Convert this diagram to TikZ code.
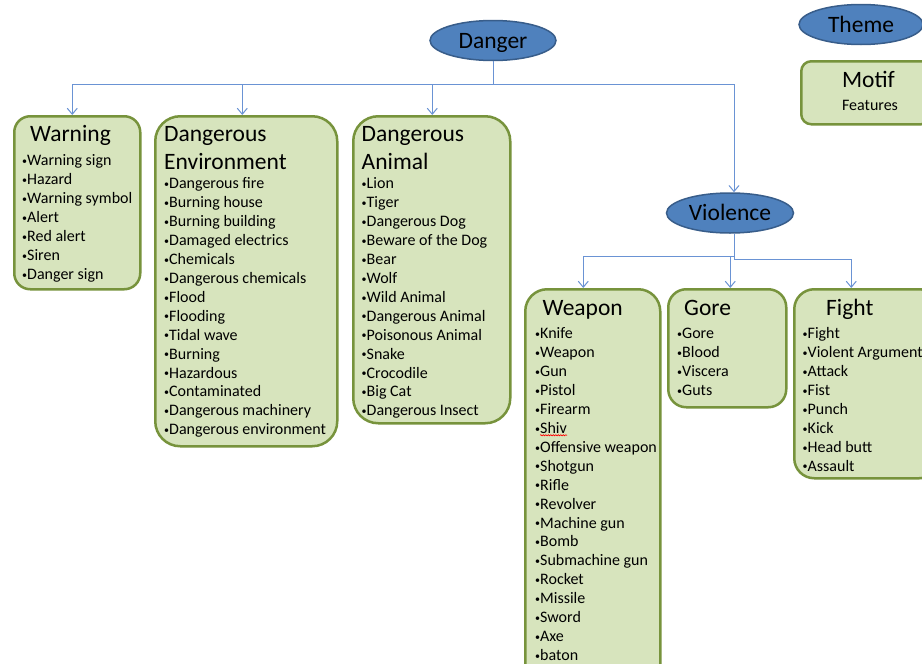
\documentclass[tikz,border=0pt]{standalone}
\usepackage{fontspec}
\setmainfont{Carlito}
\usetikzlibrary{shapes.geometric,arrows.meta,decorations.pathmorphing}
\definecolor{boxfill}{HTML}{D7E4BD}
\definecolor{boxline}{HTML}{77933C}
\definecolor{ellfill}{HTML}{4F81BD}
\definecolor{elline}{HTML}{385D8A}
\definecolor{conncol}{HTML}{6A93D4}
\newcommand\bul{\makebox[5pt][l]{\raisebox{1.2pt}{\fontsize{10}{10}\selectfont •}}}
\begin{document}
\begin{tikzpicture}[x=1pt,y=-1pt,
  box/.style={draw=boxline,fill=boxfill,line width=2.5pt,inner sep=0pt,anchor=north west},
  oval/.style={ellipse,draw=elline,fill=ellfill,line width=1.5pt,inner sep=0pt,minimum width=126pt,minimum height=40pt,font=\fontsize{23.5}{28}\selectfont,text height=15pt,text depth=0pt},
  ttl/.style={font=\fontsize{23.5}{28}\selectfont,inner sep=0pt},
  itm/.style={font=\fontsize{16}{19}\selectfont,inner sep=0pt,anchor=base west},
  conn/.style={draw=conncol,line width=1pt},
  arr/.style={conn,-{Straight Barb[length=6pt,width=10pt]}}]
\clip (0,0) rectangle (922,664);
\fill[white] (0,0) rectangle (922,664);
% boxes
\node[box,minimum width=126pt,minimum height=173pt,rounded corners=16pt] (warn) at (13,115) {};
\node[box,minimum width=182pt,minimum height=330pt,rounded corners=25pt] (env) at (154,115) {};
\node[box,minimum width=157pt,minimum height=307pt,rounded corners=25pt] (ani) at (352,115) {};
\node[box,minimum width=135pt,minimum height=400pt,rounded corners=22pt] (weap) at (524,288) {};
\node[box,minimum width=118pt,minimum height=118pt,rounded corners=18pt] (gore) at (667,288) {};
\node[box,minimum width=145pt,minimum height=189pt,rounded corners=20pt] (fight) at (793,288) {};
\node[box,minimum width=130pt,minimum height=63pt,rounded corners=10pt] (motif) at (800,60) {};
% ovals
\node[oval] (danger) at (493,40.5) {Danger};
\node[oval,minimum width=124pt] (theme) at (861,24.5) {Theme};
\node[oval,minimum width=127pt] (violence) at (730,213) {Violence};
% connectors
\coordinate (dj) at (493,84);
\draw[conn] (danger.south) -- (dj);
\draw[arr] (dj) -| ([xshift=-5pt]warn.north);
\draw[arr] (dj) -| ([xshift=-4pt]env.north);
\draw[arr] (dj) -| ([xshift=0.5pt]ani.north);
\draw[arr] (dj) -| ([xshift=4pt]violence.north);
\coordinate (vj) at (734,256);
\coordinate (vk) at (734,259);
\draw[conn] ([xshift=4pt]violence.south) -- (vk);
\draw[arr] (vj) -| ([xshift=-9.5pt]weap.north);
\draw[arr] (vj) -| ([xshift=3pt]gore.north);
\draw[arr] (vk) -| ([xshift=-15.5pt]fight.north);
% titles
\node[ttl,anchor=base] (warnt) at (70.5,141.5) {Warning};
\node[ttl,anchor=base west] (envt1) at (164,141) {Dangerous};
\node[ttl,anchor=base west] (envt2) at (164,169.5) {Environment};
\node[ttl,anchor=base west] (anit1) at (361.5,141) {Dangerous};
\node[ttl,anchor=base west] (anit2) at (361.5,169.5) {Animal};
\node[ttl,anchor=base west] (weapt) at (542.5,315) {Weapon};
\node[ttl,anchor=base west] (goret) at (684,315) {Gore};
\node[ttl,anchor=base west] (fightt) at (826,315) {Fight};
\node[ttl,anchor=base] (motift) at (868.5,87.3) {Motif};
\node[itm,anchor=base] (feat) at (870,110) {Features};
% items
\foreach \t [count=\i] in {Warning sign,Hazard,Warning symbol,Alert,Red alert,Siren,Danger sign}
  \node[itm] (wa\i) at (22,{165.5+18.95*(\i-1)}) {\bul\t};
\foreach \t [count=\i] in {Dangerous fire,Burning house,Burning building,Damaged electrics,Chemicals,Dangerous chemicals,Flood,Flooding,Tidal wave,Burning,Hazardous,Contaminated,Dangerous machinery,Dangerous environment}
  \node[itm] (en\i) at (164,{188.5+18.95*(\i-1)}) {\bul\t};
\foreach \t [count=\i] in {Lion,Tiger,Dangerous Dog,Beware of the Dog,Bear,Wolf,Wild Animal,Dangerous Animal,Poisonous Animal,Snake,Crocodile,Big Cat,Dangerous Insect}
  \node[itm] (an\i) at (361.5,{188.5+18.95*(\i-1)}) {\bul\t};
\foreach \t [count=\i] in {Knife,Weapon,Gun,Pistol,Firearm,Shiv,Offensive weapon,Shotgun,Rifle,Revolver,Machine gun,Bomb,Submachine gun,Rocket,Missile,Sword,Axe,baton}
  \node[itm] (wp\i) at (535,{338.5+18.95*(\i-1)}) {\bul\t};
\foreach \t [count=\i] in {Gore,Blood,Viscera,Guts}
  \node[itm] (go\i) at (677,{338.5+18.95*(\i-1)}) {\bul\t};
\foreach \t [count=\i] in {Fight,Violent Argument,Attack,Fist,Punch,Kick,Head butt,Assault}
  \node[itm] (fi\i) at (802.5,{338.5+18.95*(\i-1)}) {\bul\t};
% spell-check squiggle under Shiv
\draw[red,line width=0.6pt,decorate,decoration={snake,amplitude=0.6pt,segment length=2.5pt}]
  ([xshift=5pt,yshift=-2pt]wp6.base west) -- ([yshift=-2pt]wp6.base east);
\end{tikzpicture}
\end{document}
